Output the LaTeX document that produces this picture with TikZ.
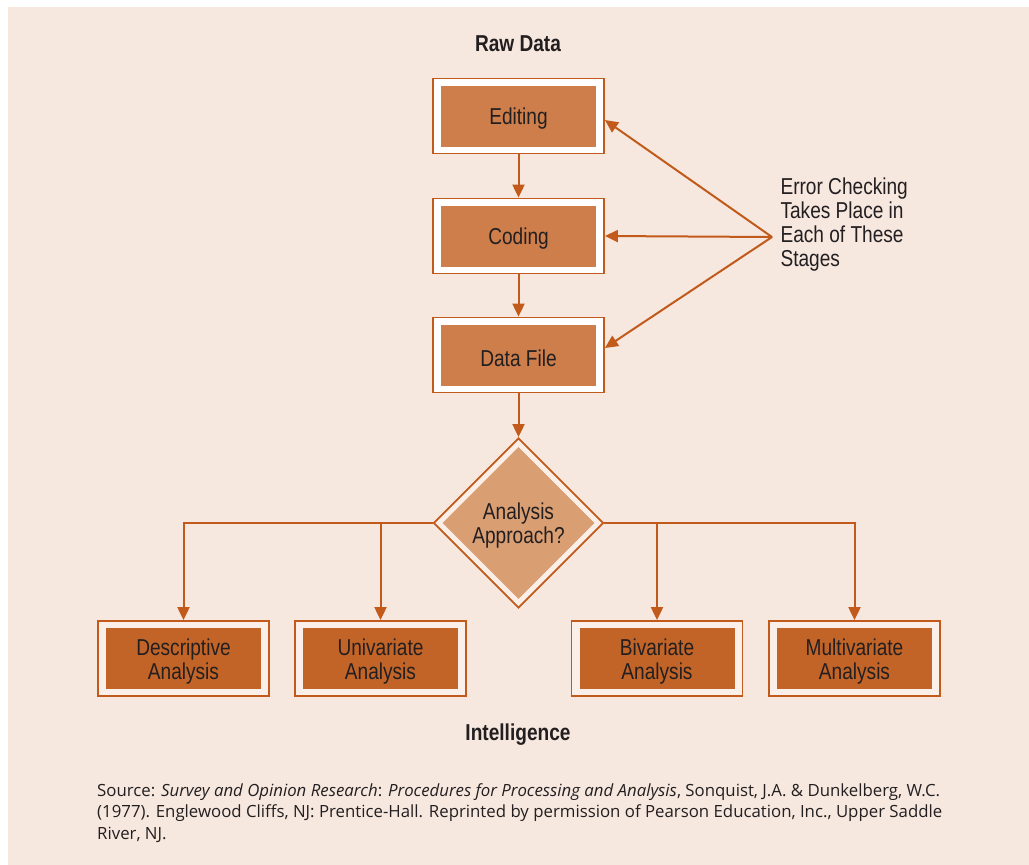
\documentclass[tikz,border=0pt]{standalone}
\usepackage{fontspec}
\setmainfont{Liberation Sans}
\newfontfamily\condfont[FakeStretch=0.83]{Liberation Sans}
\newfontfamily\srcfont{Open Sans}
\usetikzlibrary{shapes.geometric,arrows.meta,positioning}
\definecolor{bgc}{HTML}{F6E8DF}
\definecolor{brd}{HTML}{C15A1B}
\definecolor{topfill}{HTML}{CD7E4B}
\definecolor{diafill}{HTML}{DA9E73}
\definecolor{diaring}{HTML}{FAEEE6}
\definecolor{botfill}{HTML}{C26428}
\definecolor{botring}{HTML}{FBF0E9}
\definecolor{txt}{HTML}{231F20}
\tikzset{
  lbl/.style={font=\condfont\fontsize{23}{24}\selectfont, text=txt, align=center, yshift=-3pt},
  outerbox/.style={draw=brd, line width=1.8pt, fill=white, minimum width=171pt, minimum height=75pt, inner sep=0pt},
  innertop/.style={fill=topfill, minimum width=155pt, minimum height=61pt, inner sep=0pt},
  outerbot/.style={draw=brd, line width=1.8pt, fill=botring, minimum width=171pt, minimum height=75pt, inner sep=0pt},
  innerbot/.style={fill=botfill, minimum width=155pt, minimum height=61pt, inner sep=0pt},
  outerdia/.style={diamond, draw=brd, line width=1.8pt, fill=diaring, minimum width=170pt, minimum height=170pt, inner sep=0pt},
  innerdia/.style={diamond, fill=diafill, minimum width=152pt, minimum height=152pt, inner sep=0pt},
  arr/.style={draw=brd, line width=2pt, -{Triangle[length=13pt,width=12pt]}},
  ttl/.style={font=\condfont\bfseries\fontsize{23}{24}\selectfont, text=txt}
}
\begin{document}
\begin{tikzpicture}[x=1pt,y=-1pt]
\useasboundingbox (0,0) rectangle (1029,865);
\fill[bgc] (8,7) rectangle (1029,865);

\node[ttl] (raw) at (518,44) {Raw Data};

\node[outerbox] (ed) at (518.5,116) {};
\node[innertop] (edi) at (ed) {};
\node[lbl] (edl) at (ed) {Editing};
\node[outerbox] (co) at (518.5,236) {};
\node[innertop] (coi) at (co) {};
\node[lbl] (col) at (co) {Coding};
\node[outerbox] (df) at (518.5,355) {};
\node[innertop] (dfi) at (df) {};
\node[lbl] (dfl) at (df) {Data File};

\node[outerdia] (dia) at (518.5,523) {};
\node[innerdia] (diai) at (dia) {};
\node[lbl] (dial) at (dia) {Analysis\\Approach?};

\node[outerbot] (de) at (183.5,658.5) {};
\node[innerbot] (dei) at (de) {};
\node[lbl] (del) at (de) {Descriptive\\Analysis};
\node[outerbot] (un) at (380.5,658.5) {};
\node[innerbot] (uni) at (un) {};
\node[lbl] (unl) at (un) {Univariate\\Analysis};
\node[outerbot] (bi) at (657,658.5) {};
\node[innerbot] (bii) at (bi) {};
\node[lbl] (bil) at (bi) {Bivariate\\Analysis};
\node[outerbot] (mu) at (854.5,658.5) {};
\node[innerbot] (mui) at (mu) {};
\node[lbl] (mul) at (mu) {Multivariate\\Analysis};

\node[ttl] (intel) at (518,734.5) {Intelligence};

\node[lbl, align=left, anchor=west] (err) at (777,222) {Error Checking\\Takes Place in\\Each of These\\Stages};
\coordinate (errsrc) at (772,237);

\draw[arr] (ed) -- (co);
\draw[arr] (co) -- (df);
\draw[arr] (df) -- (dia);

\draw[arr] (errsrc) -- ([yshift=-4pt]ed.east);
\draw[arr] (errsrc) -- (co.east);
\draw[arr] (errsrc) -- ([yshift=7pt]df.east);

\draw[arr] (dia.west) -| (de.north);
\draw[arr] (dia.west -| un.north) -- (un.north);
\draw[arr] (dia.east) -| (mu.north);
\draw[arr] (dia.east -| bi.north) -- (bi.north);

\node[anchor=north west, align=left, text=txt, inner sep=0pt,
  font=\srcfont\fontsize{16.8}{21.5}\selectfont] (src) at (97,783)
  {Source: \textit{Survey and Opinion Research}: \textit{Procedures for Processing and Analysis}, Sonquist, J.A. \& Dunkelberg, W.C.\\
  (1977). Englewood Cliffs, NJ: Prentice-Hall. Reprinted by permission of Pearson Education, Inc., Upper Saddle\\
  River, NJ.};
\end{tikzpicture}
\end{document}
